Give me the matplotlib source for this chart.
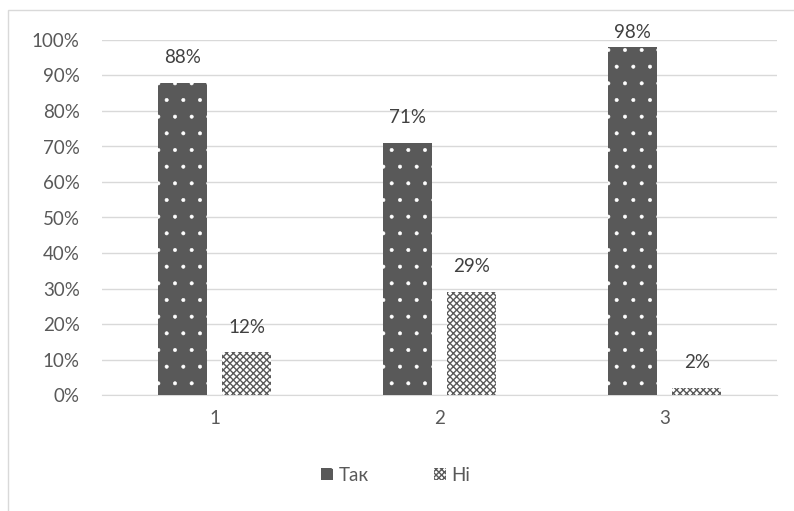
import matplotlib.pyplot as plt
import numpy as np
from matplotlib.patches import Patch, Rectangle

plt.rcParams['font.family'] = ['Lato', 'DejaVu Sans']

# data
categories = ['1', '2', '3']
tak_values = [0.88, 0.71, 0.98]
ni_values = [0.12, 0.29, 0.02]
series_names = ['Так', 'Ні']

BAR_COLOR = '#595959'
TEXT_COLOR = '#595959'
GRID_COLOR = '#d9d9d9'
BAR_WIDTH = 0.22
OFFSET = 0.143
FONT_SIZE = 13.5
LABEL_GAP = 0.071   # label centre above bar top (axis units)
LABEL_MAX = 1.022   # labels are kept inside the plot area

fig = plt.figure(figsize=(7.94, 5.11), dpi=100, facecolor='w')
ax = fig.add_axes([102 / 794, 1 - 395 / 511, 675 / 794, 355 / 511])

x = np.arange(1, len(categories) + 1)
plt.rcParams['hatch.linewidth'] = 0.4
b1 = ax.bar(x - OFFSET, tak_values, BAR_WIDTH, color=BAR_COLOR,
            edgecolor='white', hatch='.', linewidth=0, zorder=3)
h1 = Patch(facecolor=BAR_COLOR, edgecolor='white', hatch='.', linewidth=0)
plt.rcParams['hatch.linewidth'] = 1.0
b2 = ax.bar(x + OFFSET, ni_values, BAR_WIDTH, color='white',
            edgecolor=BAR_COLOR, hatch='xxxxx', linewidth=0, zorder=3)
h2 = Patch(facecolor='white', edgecolor=BAR_COLOR, hatch='xxxxxx', linewidth=0)

for bars, vals in ((b1, tak_values), (b2, ni_values)):
    for rect, v in zip(bars, vals):
        ax.text(rect.get_x() + rect.get_width() / 2, min(v + LABEL_GAP, LABEL_MAX),
                '{:.0f}%'.format(v * 100), ha='center', va='center',
                fontsize=FONT_SIZE, color='#404040', clip_on=False)

ax.set_xlim(0.5, 3.5)
ax.set_ylim(0, 1)
ax.set_yticks(np.arange(0, 1.01, 0.1))
ax.set_yticklabels(['{:.0f}%'.format(t * 100) for t in np.arange(0, 1.01, 0.1)])
ax.set_xticks(x)
ax.set_xticklabels(categories)
ax.tick_params(axis='both', length=0, labelsize=FONT_SIZE, labelcolor=TEXT_COLOR)
ax.tick_params(axis='y', pad=16)
ax.tick_params(axis='x', pad=11)
ax.grid(axis='y', color=GRID_COLOR, linewidth=1, zorder=0)
for s in ['top', 'right', 'left']:
    ax.spines[s].set_visible(False)
ax.spines['bottom'].set_color(GRID_COLOR)
ax.set_axisbelow(True)

fig.legend([h1, h2], series_names, loc='center', bbox_to_anchor=(396 / 794, 1 - 475 / 511),
           ncol=2, frameon=False, fontsize=FONT_SIZE, labelcolor=TEXT_COLOR,
           handlelength=0.62, handleheight=0.62, handletextpad=0.3, columnspacing=3.5)

fig.patches.append(Rectangle((8 / 794, -0.01), 1.0, (511 - 10) / 511 + 0.01,
                             transform=fig.transFigure, fill=False,
                             edgecolor=GRID_COLOR, linewidth=1))

fig.savefig('out.png', dpi=100)
